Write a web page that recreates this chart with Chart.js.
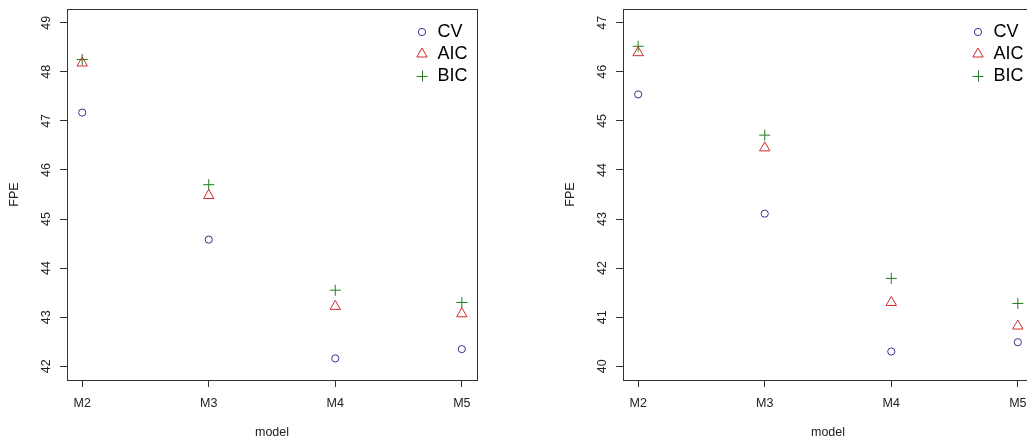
<!DOCTYPE html>
<html><head><meta charset="utf-8">
<script src="https://cdn.jsdelivr.net/npm/chart.js@4.4.1/dist/chart.umd.min.js"></script>
<style>
html,body{margin:0;padding:0;background:#fff;overflow:hidden;width:1027px;height:439px;}
.panel{position:absolute;top:0;width:520px;height:439px;}
canvas{display:block;}
</style></head><body>
<div class="panel" style="left:0px"><canvas id="c1" width="520" height="439"></canvas></div>
<div class="panel" style="left:556px"><canvas id="c2" width="520" height="439"></canvas></div>
<script>
// ---- data ----
const models = ['M2', 'M3', 'M4', 'M5'];
const xPositions = [1, 2, 3, 4];
const seriesNames = ['CV', 'AIC', 'BIC'];

const leftCV  = [47.17, 44.58, 42.16, 42.35];
const leftAIC = [48.18, 45.48, 43.22, 43.07];
const leftBIC = [48.25, 45.70, 43.55, 43.30];
const leftYTicks = [42, 43, 44, 45, 46, 47, 48, 49];

const rightCV  = [45.54, 43.11, 40.30, 40.49];
const rightAIC = [46.39, 44.45, 41.30, 40.82];
const rightBIC = [46.52, 44.71, 41.79, 41.28];
const rightYTicks = [40, 41, 42, 43, 44, 45, 46, 47];

// ---- styling ----
const FONT = 'Liberation Sans, Arial, Helvetica, sans-serif';
const colors = ['#34348c', '#d22a2a', '#1f7d1f'];
const styles = ['circle', 'triangle', 'cross'];
const radii = [3.6, 6, 5.5];
const AXIS = '#333333';
const TEXT = '#222222';

function symbolImage(style, color, r) {
  const c = document.createElement('canvas');
  c.width = 16; c.height = 16;
  const g = c.getContext('2d');
  g.strokeStyle = color; g.lineWidth = 1;
  g.beginPath();
  const cx = 8, cy = 8;
  if (style === 'circle') {
    g.arc(cx, cy, r, 0, Math.PI * 2);
  } else if (style === 'triangle') {
    const s = Math.sin(Math.PI / 3) * r;
    g.moveTo(cx, cy - r); g.lineTo(cx + s, cy + r / 2); g.lineTo(cx - s, cy + r / 2); g.closePath();
  } else {
    g.moveTo(cx - r, cy + 0.5); g.lineTo(cx + r, cy + 0.5); g.moveTo(cx + 0.5, cy - r); g.lineTo(cx + 0.5, cy + r);
  }
  g.stroke();
  return c;
}
const legendImages = styles.map((s, i) => symbolImage(s, colors[i], radii[i]));

const boxPlugin = {
  id: 'plotBox',
  beforeDatasetsDraw(chart) {
    const {ctx, chartArea: a} = chart;
    ctx.save();
    ctx.strokeStyle = AXIS; ctx.lineWidth = 1;
    const l = Math.round(a.left - 0.5) + 0.5, t = Math.round(a.top - 0.5) + 0.5;
    const r = Math.round(a.right - 0.5) + 0.5, b = Math.round(a.bottom - 0.5) + 0.5;
    ctx.strokeRect(l, t, r - l, b - t);
    ctx.restore();
  }
};
const legendPosPlugin = {
  id: 'legendPos',
  afterLayout(chart) {
    const L = chart.legend; if (!L) return;
    const a = chart.chartArea;
    L.left = Math.round(a.right - 65.8) + 0.5;
    L.top = Math.round(a.top + 10);
    L.right = L.left + 160;
    L.bottom = L.top + 200;
  }
};

function makeChart(id, cv, aic, bic, yTicks) {
  const ymin = yTicks[0], ymax = yTicks[yTicks.length - 1];
  const ext = (ymax - ymin) * 0.04;
  const xext = (xPositions[xPositions.length - 1] - xPositions[0]) * 0.04;
  const series = [cv, aic, bic];
  new Chart(document.getElementById(id), {
    type: 'scatter',
    data: {
      datasets: series.map((vals, i) => ({
        label: seriesNames[i],
        data: xPositions.map((x, j) => ({x: x, y: vals[j]})),
        pointStyle: styles[i],
        pointRadius: radii[i],
        pointHoverRadius: radii[i],
        pointBorderWidth: 1,
        borderColor: colors[i],
        backgroundColor: 'rgba(0,0,0,0)',
        showLine: false
      }))
    },
    options: {
      responsive: false,
      animation: false,
      events: [],
      layout: {padding: {left: 0, top: 9, right: 43, bottom: 0}},
      plugins: {
        tooltip: {enabled: false},
        legend: {
          position: 'chartArea',
          align: 'start',
          labels: {
            usePointStyle: true,
            boxWidth: 13,
            boxHeight: 13,
            padding: 4,
            color: '#111',
            font: {family: FONT, size: 18},
            generateLabels: (chart) => chart.data.datasets.map((ds, i) => ({
              text: ds.label,
              fillStyle: 'rgba(0,0,0,0)',
              strokeStyle: colors[i],
              lineWidth: 1,
              pointStyle: legendImages[i],
              rotation: 0,
              hidden: false,
              datasetIndex: i
            }))
          }
        }
      },
      scales: {
        x: {
          type: 'linear',
          bounds: 'data',
          min: xPositions[0] - xext,
          max: xPositions[xPositions.length - 1] + xext,
          afterBuildTicks: (s) => { s.ticks = xPositions.map(v => ({value: v})); },
          afterFit: (s) => { s.height = 59; s.paddingLeft = 0; s.paddingRight = 0; s.paddingTop = 0; s.paddingBottom = 0; },
          ticks: {
            autoSkip: false, maxRotation: 0, minRotation: 0, padding: 9, color: TEXT,
            font: {family: FONT, size: 12.5},
            callback: (v) => models[xPositions.indexOf(v)]
          },
          grid: {drawOnChartArea: false, drawTicks: true, tickLength: 7, color: AXIS, lineWidth: 1},
          border: {display: true, color: AXIS, width: 1},
          title: {display: true, text: 'model', color: TEXT, font: {family: FONT, size: 12.5, lineHeight: 1}, padding: {top: 0, bottom: 0}}
        },
        y: {
          type: 'linear',
          bounds: 'data',
          min: ymin - ext,
          max: ymax + ext,
          afterBuildTicks: (s) => { s.ticks = yTicks.map(v => ({value: v})); },
          afterFit: (s) => { s.width = 67; s.paddingLeft = 0; s.paddingRight = 0; s.paddingTop = 0; s.paddingBottom = 0; },
          ticks: {
            autoSkip: false, minRotation: 90, maxRotation: 90, crossAlign: 'center', padding: 7, color: TEXT,
            font: {family: FONT, size: 12.5},
            callback: (v) => String(v)
          },
          grid: {drawOnChartArea: false, drawTicks: true, tickLength: 7, color: AXIS, lineWidth: 1},
          border: {display: true, color: AXIS, width: 1},
          title: {display: true, text: 'FPE', color: TEXT, font: {family: FONT, size: 12.5, lineHeight: 1}, padding: {top: 8.75, bottom: 0}}
        }
      }
    },
    plugins: [boxPlugin, legendPosPlugin]
  });
}

makeChart('c1', leftCV, leftAIC, leftBIC, leftYTicks);
makeChart('c2', rightCV, rightAIC, rightBIC, rightYTicks);
</script>
</body></html>
